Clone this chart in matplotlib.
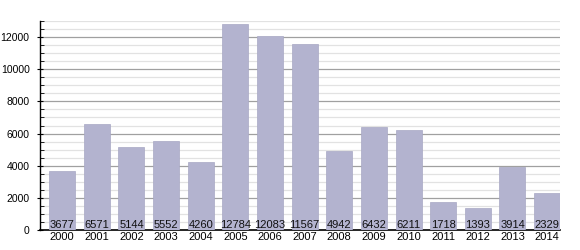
import numpy as np
import matplotlib.pyplot as plt
from matplotlib.ticker import MultipleLocator

plt.rcParams['font.family'] = ['Liberation Sans', 'DejaVu Sans']

years = ['2000', '2001', '2002', '2003', '2004', '2005', '2006', '2007',
         '2008', '2009', '2010', '2011', '2012', '2013', '2014']
values = [3677, 6571, 5144, 5552, 4260, 12784, 12083, 11567,
          4942, 6432, 6211, 1718, 1393, 3914, 2329]

fig = plt.figure(figsize=(5.8, 2.5), dpi=100)
ax = fig.add_axes([0.069, 0.08, 0.897, 0.836])

x = np.arange(len(years))
ax.bar(x, values, width=0.75, color='#b3b3cf', edgecolor='#a8a8c4',
       linewidth=0.5, zorder=3)

# value labels at the foot of each bar
for xi, v in zip(x, values):
    ax.text(xi, 20, str(v), ha='center', va='bottom', fontsize=8,
            color='#111111', zorder=4)

ax.set_xlim(-0.64, len(years) - 0.62)
ax.set_ylim(0, 13000)
ax.set_xticks(x)
ax.set_xticklabels(years, fontsize=8)
ax.tick_params(axis='x', length=0, pad=1.5)

ax.yaxis.set_major_locator(MultipleLocator(2000))
ax.yaxis.set_minor_locator(MultipleLocator(500))
ax.tick_params(axis='y', which='major', labelsize=7.5, length=5,
               direction='inout', width=0.8, pad=5)
ax.tick_params(axis='y', which='minor', length=3, direction='in', width=0.6)

ax.grid(axis='y', which='major', color='#a0a0a0', linewidth=0.9, zorder=0)
ax.grid(axis='y', which='minor', color='#e2e2e2', linewidth=0.9, zorder=0)

for side in ['top', 'right']:
    ax.spines[side].set_visible(False)
ax.spines['left'].set_linewidth(1.0)
ax.spines['bottom'].set_linewidth(1.2)

fig.savefig('out.png', dpi=100)
